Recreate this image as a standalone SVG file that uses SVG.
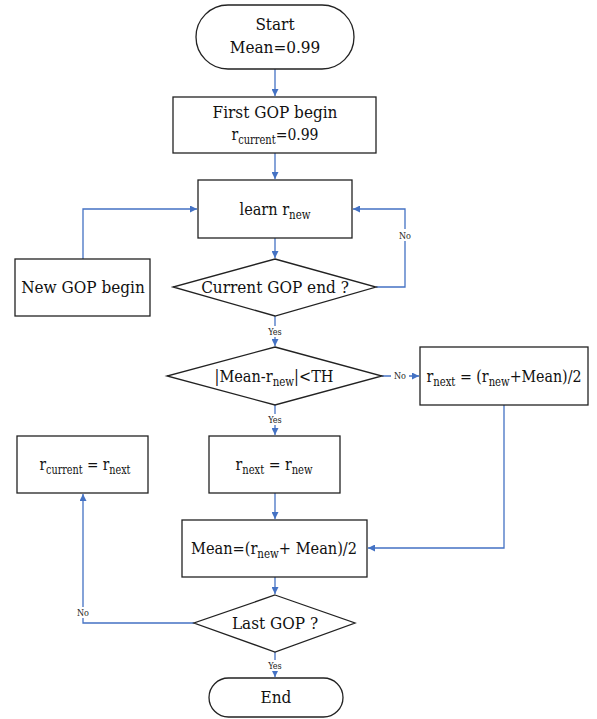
<svg xmlns="http://www.w3.org/2000/svg" width="597" height="719" viewBox="0 0 597 719">
<style>
.n{fill:#fff;stroke:#222;stroke-width:1.3}
.t{font-family:'DejaVu Serif Condensed','DejaVu Serif',serif;font-stretch:condensed;font-size:17px;fill:#111;text-anchor:middle}
.s{font-size:12px}
.c{fill:none;stroke:#4472C4;stroke-width:1.3}
.l{font-family:'DejaVu Serif Condensed','DejaVu Serif',serif;font-stretch:condensed;font-size:9px;fill:#222;text-anchor:middle}
</style>
<defs>
<marker id="a" viewBox="0 0 10 10" refX="10" refY="5" markerWidth="7" markerHeight="7" orient="auto" markerUnits="userSpaceOnUse">
<path d="M0,0 L10,5 L0,10 z" fill="#4472C4"/>
</marker>
</defs>
<rect width="597" height="719" fill="#fff"/>
<g id="connectors">
<path class="c" d="M275,69 V96" marker-end="url(#a)"/>
<path class="c" d="M275,153 V179" marker-end="url(#a)"/>
<path class="c" d="M275,238 V258" marker-end="url(#a)"/>
<path class="c" d="M376,287 H405 V209 H353" marker-end="url(#a)"/>
<path class="c" d="M83,259 V209 H197" marker-end="url(#a)"/>
<path class="c" d="M275,316 V346" marker-end="url(#a)"/>
<path class="c" d="M382,376 H419" marker-end="url(#a)"/>
<path class="c" d="M275,405 V435" marker-end="url(#a)"/>
<path class="c" d="M275,493 V519" marker-end="url(#a)"/>
<path class="c" d="M504,405 V548 H368" marker-end="url(#a)"/>
<path class="c" d="M275,577 V594" marker-end="url(#a)"/>
<path class="c" d="M194,623 H83 V494" marker-end="url(#a)"/>
<path class="c" d="M275,652 V677" marker-end="url(#a)"/>
<rect x="396" y="229" width="18" height="12" fill="#fff"/>
<text class="l" x="405" y="239">No</text>
<rect x="264" y="326" width="22" height="11" fill="#fff"/>
<text class="l" x="275" y="335">Yes</text>
<rect x="391" y="371" width="18" height="10" fill="#fff"/>
<text class="l" x="400" y="379">No</text>
<rect x="264" y="414" width="22" height="11" fill="#fff"/>
<text class="l" x="275" y="423">Yes</text>
<rect x="74" y="607" width="18" height="11" fill="#fff"/>
<text class="l" x="83" y="616">No</text>
<rect x="264" y="660" width="22" height="11" fill="#fff"/>
<text class="l" x="275" y="669">Yes</text>
</g>
<g id="start">
<rect class="n" x="196" y="5" width="158" height="64" rx="32" ry="32"/>
<text class="t" x="275" y="30">Start</text>
<text class="t" x="275" y="53">Mean=0.99</text>
</g>
<g id="first">
<rect class="n" x="173" y="97" width="203" height="56"/>
<text class="t" x="275" y="118">First GOP begin</text>
<text class="t" x="275" y="140" textLength="87" lengthAdjust="spacingAndGlyphs">r<tspan class="s" dy="4">current</tspan><tspan dy="-4">=0.99</tspan></text>
</g>
<g id="learn">
<rect class="n" x="198" y="180" width="154" height="58"/>
<text class="t" x="275" y="215" textLength="71" lengthAdjust="spacingAndGlyphs">learn r<tspan class="s" dy="4">new</tspan></text>
</g>
<g id="gopend">
<polygon class="n" points="275,259 376,287 275,316 173,287"/>
<text class="t" x="275" y="293">Current GOP end ?</text>
</g>
<g id="newgop">
<rect class="n" x="15" y="259" width="135" height="57"/>
<text class="t" x="83" y="293">New GOP begin</text>
</g>
<g id="cmp">
<polygon class="n" points="275,347 382,376 275,405 167,376"/>
<text class="t" x="274" y="382" textLength="119" lengthAdjust="spacingAndGlyphs">|Mean-r<tspan class="s" dy="4">new</tspan><tspan dy="-4">|&lt;TH</tspan></text>
</g>
<g id="rnextavg">
<rect class="n" x="420" y="347" width="168" height="58"/>
<text class="t" x="504" y="382" textLength="155" lengthAdjust="spacingAndGlyphs">r<tspan class="s" dy="4">next</tspan><tspan dy="-4"> = (r</tspan><tspan class="s" dy="4">new</tspan><tspan dy="-4">+Mean)/2</tspan></text>
</g>
<g id="rnextnew">
<rect class="n" x="209" y="436" width="131" height="57"/>
<text class="t" x="274" y="470" textLength="77" lengthAdjust="spacingAndGlyphs">r<tspan class="s" dy="4">next</tspan><tspan dy="-4"> = r</tspan><tspan class="s" dy="4">new</tspan></text>
</g>
<g id="rcur">
<rect class="n" x="17" y="436" width="131" height="57"/>
<text class="t" x="85" y="470" textLength="91" lengthAdjust="spacingAndGlyphs">r<tspan class="s" dy="4">current</tspan><tspan dy="-4"> = r</tspan><tspan class="s" dy="4">next</tspan></text>
</g>
<g id="meanupd">
<rect class="n" x="182" y="520" width="185" height="57"/>
<text class="t" x="274" y="554" textLength="166" lengthAdjust="spacingAndGlyphs">Mean=(r<tspan class="s" dy="4">new</tspan><tspan dy="-4">+ Mean)/2</tspan></text>
</g>
<g id="last">
<polygon class="n" points="275,595 355,623 275,652 194,623"/>
<text class="t" x="275" y="629">Last GOP ?</text>
</g>
<g id="end">
<rect class="n" x="209" y="678" width="134" height="39" rx="19.5" ry="19.5"/>
<text class="t" x="276" y="703">End</text>
</g>
</svg>
